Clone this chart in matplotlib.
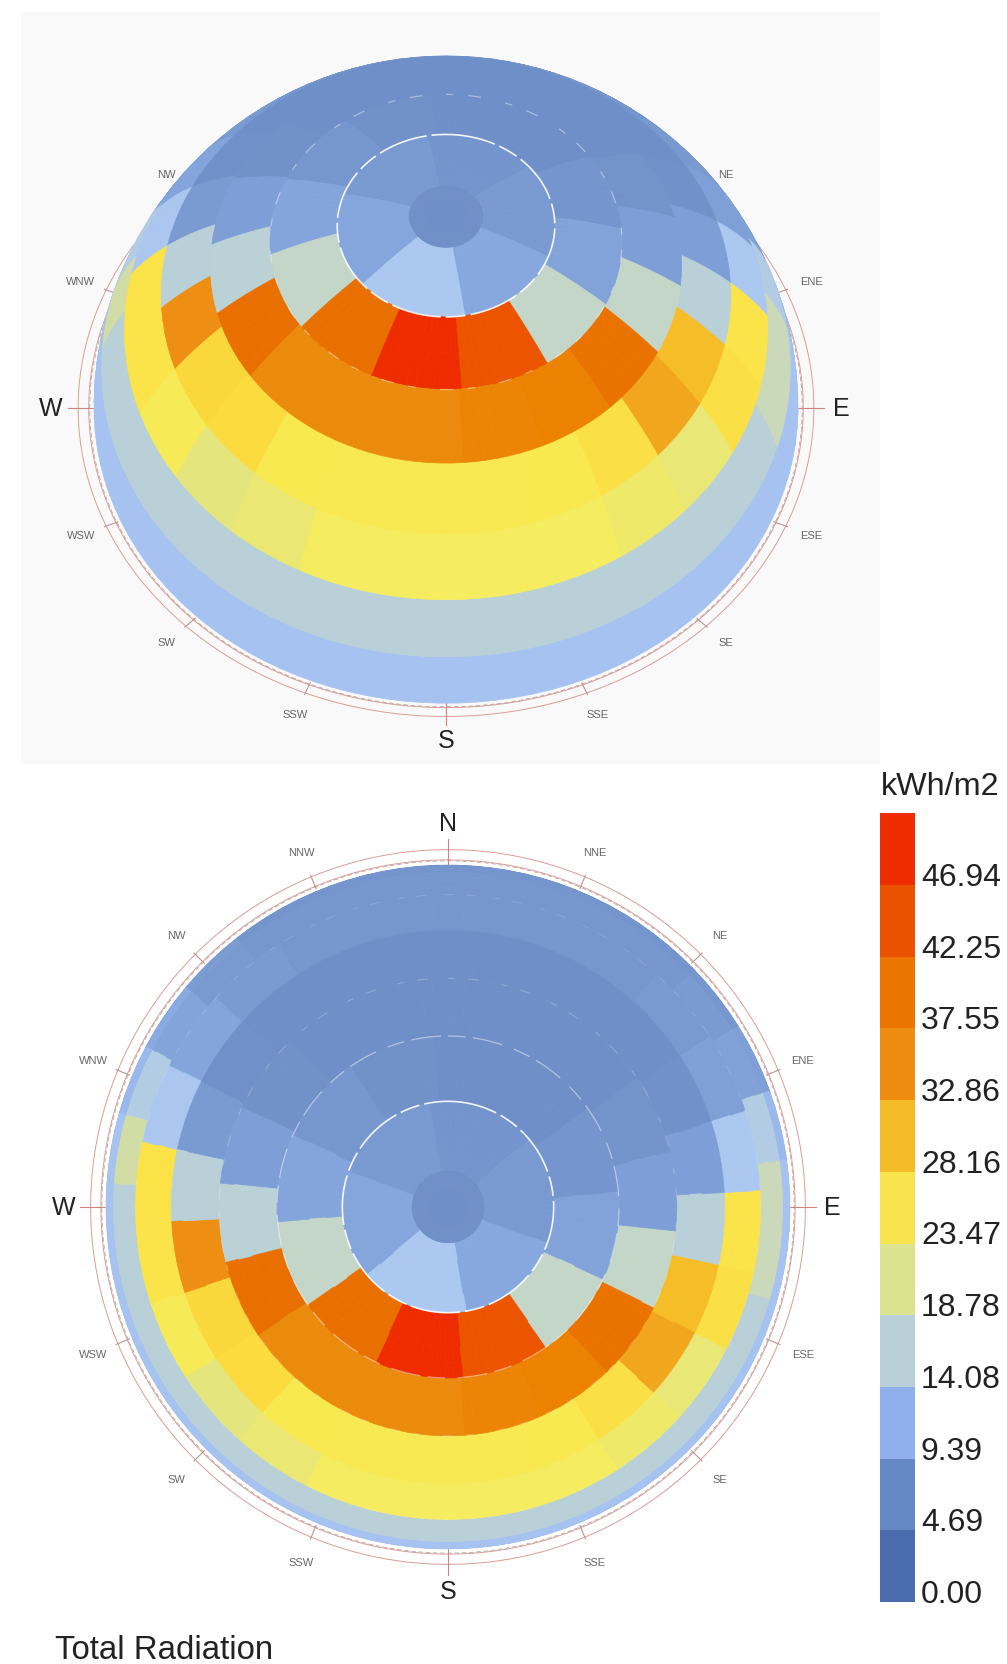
import numpy as np
import matplotlib
matplotlib.use('Agg')
import matplotlib.pyplot as plt
from matplotlib.collections import PolyCollection
from matplotlib.colors import LinearSegmentedColormap, Normalize
from matplotlib.patches import Rectangle

plt.rcParams['font.family'] = ['Liberation Sans', 'DejaVu Sans']

# radiation per sky patch (kWh/m2), Tregenza dome, azimuth clockwise from north
cap_value = 8.2
alt_bands = [(72, 84), (60, 72), (48, 60), (36, 48), (24, 36), (12, 24), (0, 12)]
start_az = [50, 25, 16, 12, 12, 10, 10]

ring_72_84 = [9.3, 10.8, 14.6, 10.6, 9.3, 8.8]
ring_60_72 = [8.2, 8.9, 10.3, 17.8, 44.5, 49, 40, 17.8, 10.5, 9.0, 8.4, 8.2]
ring_48_60 = [8.2, 8.2, 8.6, 9.8, 17.8, 39.5, 37.5, 37, 36.2, 36, 36, 40, 16.6, 9.8, 8.4, 8.2, 8.2, 8.2]
ring_36_48 = [8.2, 8.2, 8.2, 8.5, 9.8, 16.4, 30, 32.5, 26.5, 25.4, 25.3, 25.3,
              25.3, 25.4, 27, 27.5, 35, 16.4, 9.4, 8.3, 8.2, 8.2, 8.2, 8.2]
ring_24_36 = [9, 9, 9.3, 10, 14.6, 26, 26.5, 22.5, 23.5, 24.5, 24.5, 24.5,
              24.5, 22.8, 21.8, 25, 26, 26.2, 14.5, 10.5, 9.4, 9, 9, 9]
ring_12_24 = [9, 9, 9, 9.4, 10.2, 15.5, 18.5, 18.5, 16.4, 16.4, 16.4, 16.4, 16.4, 16.4, 16.4,
              16.4, 16.4, 16.4, 16.4, 16.4, 16.4, 16.4, 19.5, 15.5, 10.4, 9.3, 9, 9, 9, 9]
ring_0_12 = [8.8, 8.8, 8.8, 9, 9.8, 12, 13.2, 13.2, 13.2, 13.2, 13.2, 13.2, 13.2, 13.2, 13.2,
             13.2, 13.2, 13.2, 13.2, 13.2, 13.2, 13.2, 13.2, 12, 11, 9.5, 8.8, 8.8, 8.8, 8.8]
rings = [ring_72_84, ring_60_72, ring_48_60, ring_36_48, ring_24_36, ring_12_24, ring_0_12]

# legend
band_labels = ['0.00', '4.69', '9.39', '14.08', '18.78', '23.47', '28.16', '32.86', '37.55', '42.25', '46.94']
band_colors = ['#4A6BAE', '#6488C4', '#8FB0EC', '#B9D0D8', '#DDE291', '#F8E44E',
               '#F3BC28', '#EE8C12', '#EC7400', '#EA5200', '#EE2C00']

# colours of the patches as seen on the dome, value -> colour
anchor_values = [2.35, 8.2, 9.4, 10.8, 12.5, 14.6, 16.4, 17.8, 21.1, 24.5, 25.4,
                 27.2, 30, 32.5, 35, 36.2, 37.5, 40, 44.5, 49]
anchor_colors = ['#4A6BAE', '#6F8FC8', '#7A9AD2', '#86A8DF', '#A3BFF0', '#ABC8F0', '#B9D0D8',
                 '#C4D6C8', '#E0E384', '#F5EC60', '#F9E950', '#FBDA3C', '#F5BE28', '#F1A61E',
                 '#EE8E12', '#EB8A0C', '#EC8200', '#E97000', '#EC5400', '#EE2C00']

compass = ['N', 'NNE', 'NE', 'ENE', 'E', 'ESE', 'SE', 'SSE', 'S', 'SSW', 'SW', 'WSW', 'W', 'WNW', 'NW', 'NNW']
top_hidden = ['N', 'NNE', 'NNW']

norm = Normalize(anchor_values[0], anchor_values[-1])
cmap = LinearSegmentedColormap.from_list('sky', list(zip(norm(anchor_values), anchor_colors)), N=1024)

fig = plt.figure(figsize=(10.07, 16.65), dpi=100)
ax = fig.add_axes([0, 0, 1, 1])
ax.set_xlim(0, 1007)
ax.set_ylim(1665, 0)
ax.axis('off')
ax.add_patch(Rectangle((21, 13), 859, 752, fc='#F9F9F9', ec='none', zorder=0))


def flat_view(az, alt, cx=448, cy=1208, R=342):
    a, z = np.radians(az), np.radians(alt)
    return cx + R * np.cos(z) * np.sin(a), cy - R * np.cos(z) * np.cos(a), np.sin(z)


def dome_view(az, alt, cx=446, cy=409, R=352, el=57):
    a, z, e = np.radians(az), np.radians(alt), np.radians(el)
    north = np.cos(z) * np.cos(a)
    up = np.sin(z)
    x = cx + R * np.cos(z) * np.sin(a)
    y = cy - R * (north * np.sin(e) + up * np.cos(e))
    return x, y, up * np.sin(e) - north * np.cos(e)


def sky_cells():
    for (lo, hi), first, vals in zip(alt_bands, start_az, rings):
        w = 360 / len(vals)
        for i, v in enumerate(vals):
            yield first + i * w, first + (i + 1) * w, lo, hi, v
    yield 0, 360, 84, 90, cap_value


def draw_sky(view):
    polys, values, depth = [], [], []
    for az0, az1, lo, hi, v in sky_cells():
        n_az = int(np.ceil((az1 - az0) / 3))
        n_alt = 4
        az_e = np.linspace(az0, az1, n_az + 1)
        alt_e = np.linspace(lo, hi, n_alt + 1)
        for j in range(n_az):
            for k in range(n_alt):
                az_q = np.array([az_e[j], az_e[j + 1], az_e[j + 1], az_e[j]])
                alt_q = np.array([alt_e[k], alt_e[k], alt_e[k + 1], alt_e[k + 1]])
                x, y, d = view(az_q, alt_q)
                polys.append(np.column_stack([x, y]))
                values.append(v)
                depth.append(d.mean())
    order = np.argsort(depth)
    colors = cmap(norm(np.array(values)[order]))
    pc = PolyCollection([polys[i] for i in order], facecolors=colors, edgecolors=colors,
                        linewidths=0.5, zorder=3)
    ax.add_collection(pc)


def draw_rose(view, hidden=()):
    az = np.linspace(0, 360, 361)
    c = view(az, np.zeros_like(az))
    base = view(np.array([90.0, 270.0]), np.zeros(2))
    cx = (base[0][0] + base[0][1]) / 2
    cy = (base[1][0] + base[1][1]) / 2
    for s in [1.015, 1.045]:
        ax.plot(cx + s * (c[0] - cx), cy + s * (c[1] - cy), color='#DB9C96', lw=0.7, zorder=1)
    ax.plot(cx + 1.012 * (c[0] - cx), cy + 1.012 * (c[1] - cy), color='#9A8A88', lw=0.4,
            ls=(0, (8, 5)), zorder=1)
    for i, name in enumerate(compass):
        p = view(np.array([i * 22.5]), np.zeros(1))
        dx, dy = p[0][0] - cx, p[1][0] - cy
        major = i % 4 == 0
        r0, r1 = (1.0, 1.075) if major else (1.008, 1.05)
        ax.plot([cx + r0 * dx, cx + r1 * dx], [cy + r0 * dy, cy + r1 * dy],
                color='#D08480' if major else '#BC9490', lw=0.8, zorder=1)
        if name in hidden:
            continue
        ax.text(cx + 1.123 * dx, cy + 1.123 * dy, name, ha='center', va='center',
                fontsize=18 if major else 8, color='#222222' if major else '#666666', zorder=2)


def draw_dashes(view, alts, alphas, widths, dashes):
    az = np.linspace(0, 360, 721)
    for alt, al, lw, ds in zip(alts, alphas, widths, dashes):
        x, y, d = view(az, np.full_like(az, alt))
        x = np.where(d > 0.02, x, np.nan)
        ax.plot(x, y, color='white', alpha=al, lw=lw, ls=(0, ds), zorder=4)


solid_dash = (30, 3, 12, 3)
broken_dash = (14, 6, 24, 10)
sparse_dash = (6, 12, 10, 20)

draw_rose(dome_view, top_hidden)
draw_sky(dome_view)
draw_dashes(dome_view, [72, 60], [0.9, 0.4], [1.2, 0.9], [solid_dash, sparse_dash])

draw_rose(flat_view)
draw_sky(flat_view)
draw_dashes(flat_view, [72, 60, 48, 24], [0.9, 0.45, 0.22, 0.15], [1.2, 0.9, 0.8, 0.7],
            [solid_dash, broken_dash, sparse_dash, sparse_dash])

# legend
bar_x, bar_w, bar_bottom, bar_h = 879.5, 35.5, 1603, 71.7
for i, (lab, col) in enumerate(zip(band_labels, band_colors)):
    y0 = bar_bottom - i * bar_h
    ax.add_patch(Rectangle((bar_x, y0 - bar_h), bar_w, bar_h, fc=col, ec='none', zorder=3))
    ax.text(921, y0, lab, ha='left', va='baseline', fontsize=23, color='#222222')
ax.text(881, 795, 'kWh/m2', ha='left', va='baseline', fontsize=23.3, color='#222222')
ax.text(55, 1659, 'Total Radiation', ha='left', va='baseline', fontsize=23.8, color='#222222')

fig.savefig('out.png', dpi=100)
